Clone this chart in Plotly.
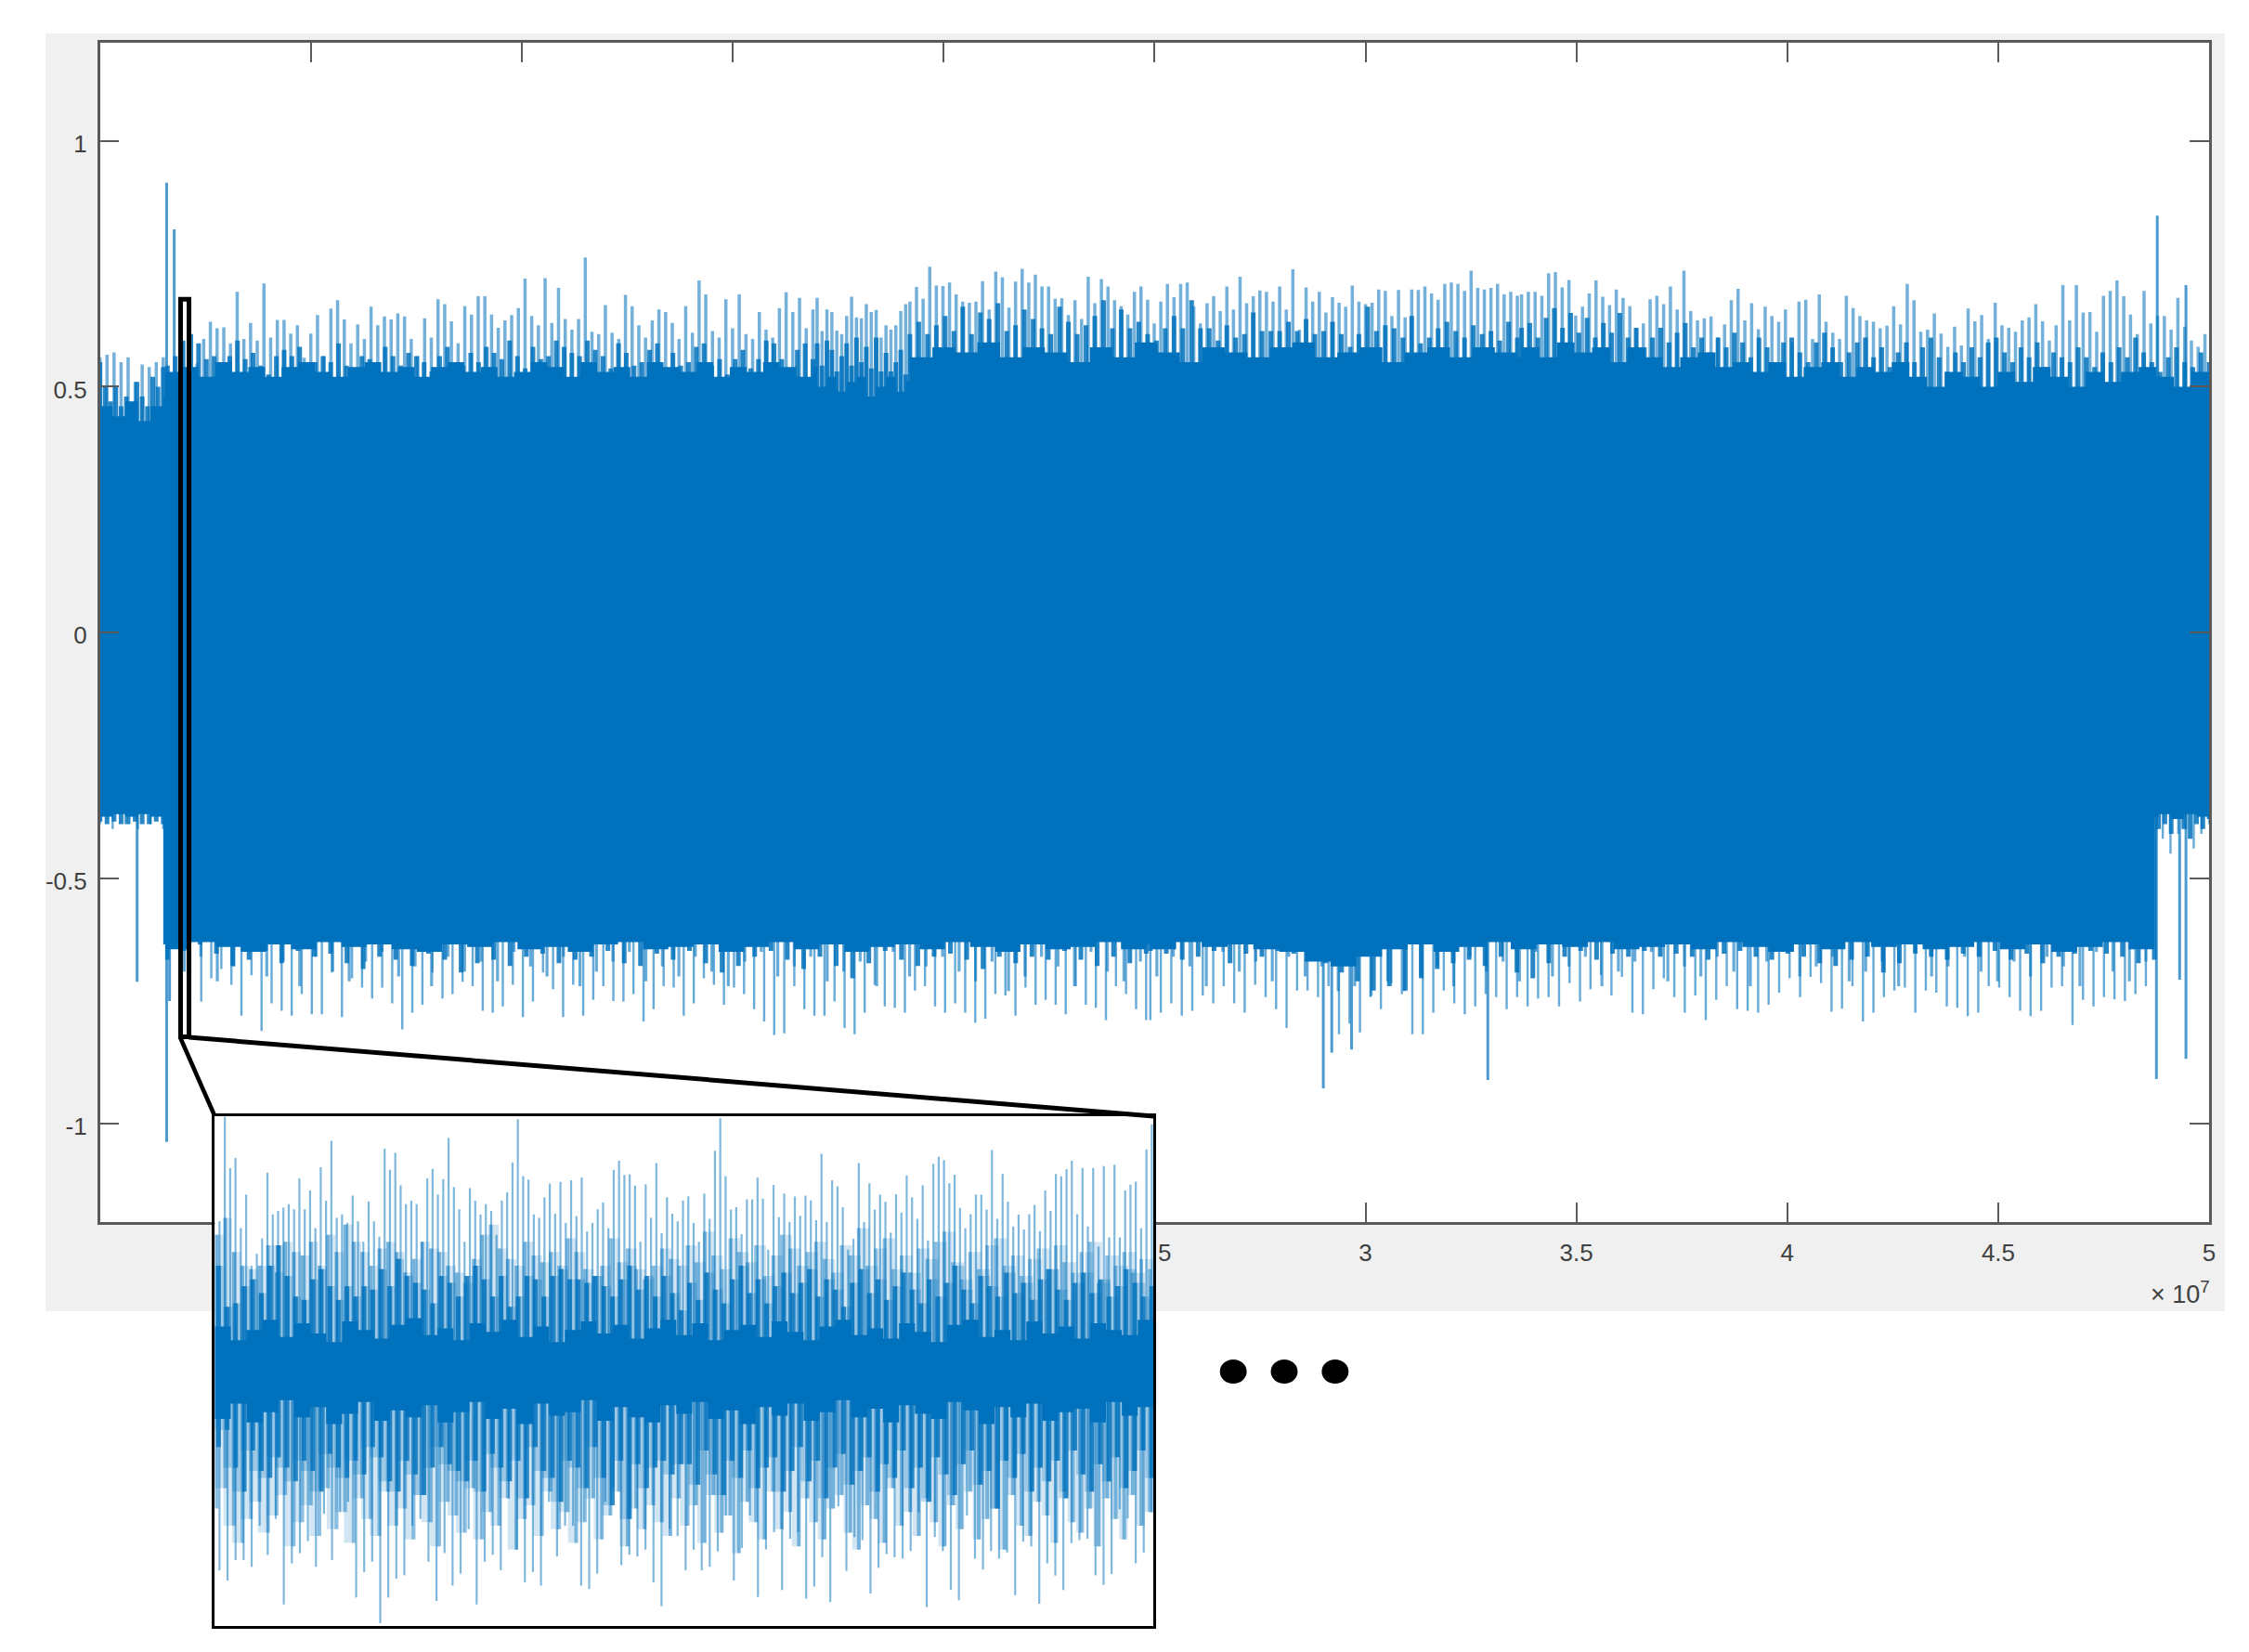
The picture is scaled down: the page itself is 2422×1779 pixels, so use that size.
import numpy as np
import plotly.graph_objects as go

W, H = 2422, 1779

# ---------- main signal: values ----------
TOP_PEAK_LEFT = [.56,.565,.57,.55,.56,.51,.545,.54,.55,.56]
TOP_PEAK_A = [.547,.597,.632,.619,.621,.588,.693,.597,.63,.594,.71,.60,.636,.636,.608,.625,.559,.608,.646,.562,.659,.676,.637,.588,.627,.597,.663,.625,.643,.637,.649,.643,.597,.562,.639,.60,.678,.668,.633,.588,.664,.647,.684,.684,.647,.62,.635,.646,.66,.72,.644,.625,.721,.63,.701,.638,.616,.638,.763,.612,.607,.666,.61,.597,.687,.664,.625,.60,.635,.657,.652,.63,.597,.664,.61,.716,.688,.613,.60,.678,.619,.688,.607,.597,.652,.616,.60,.66,.692,.652,.681,.619,.657]
TOP_PEAK_B1 = [.681,.613,.657,.652,.614,.607,.644,.683,.641,.639,.668,.652,.656,.60,.625,.616,.625,.654,.668]
TOP_PEAK_B2 = [.673,.703,.679,.744,.706,.705,.712,.688,.673,.671,.673,.715,.657,.734,.723,.661,.714,.74,.712,.728,.704,.704,.679,.68,.646,.676,.638,.724,.67,.719,.704,.676,.664,.647,.693,.704,.677,.629,.673,.709,.682,.709,.712,.664,.629,.67,.684,.654,.704,.657,.724,.67,.684,.696,.693,.673,.704,.657,.739,.616,.702,.673,.693,.651,.682,.671,.663,.706,.673,.668,.671,.698,.695,.644,.697,.641,.698,.697,.704,.69,.677,.709,.712,.709,.695,.736,.701,.698,.701,.709,.688,.693,.685]
TOP_PEAK_C = [.688,.693,.693,.685,.731,.733,.702,.717,.645,.663,.69,.716,.683,.666,.698,.681,.664,.619,.629,.678,.685,.668,.704,.657,.736,.654,.635,.639,.643,.60,.627,.676,.699,.635,.67,.617,.663,.644,.632,.657,.59,.673,.677,.597,.688,.632,.61,.597,.685,.66,.644,.635,.632,.619,.624,.664,.627,.709,.676,.612,.616,.649,.608,.581,.622,.584,.659,.633,.646,.597,.671,.625,.62,.612,.635,.641,.668,.633,.594,.625,.707,.635,.707,.651,.652,.612,.685,.695,.716,.684,.647,.607,.695,.629,.644,.644,.616,.681,.622,.594,.581,.607]
TOP_BODY_LEFT = [.55,.50,.47,.50,.46,.48,.45,.51,.48,.46,.52,.50,.54]
TOP_BODY_A = [.543,.562,.594,.607,.588,.556,.562,.537,.562,.594,.556,.569,.543,.525,.562,.575,.562,.581,.55,.55,.562,.55,.588,.543,.525,.562,.556,.537,.581,.562,.543,.569,.562,.55,.531,.562,.581,.525,.543,.569,.55,.581,.569,.556,.594,.562,.537,.581,.556,.562,.594,.581,.569,.562,.594,.575,.562,.537,.588,.569,.543,.55,.575,.588,.537,.569,.543,.55,.581,.588,.543,.556,.525,.556,.575,.537,.556,.594,.588,.556,.537,.575,.588,.556]
TOP_BODY_B1 = [.588,.543,.594,.575,.531,.562,.588,.543,.60,.55,.581,.537,.60,.531,.569,.531,.55,.575,.525]
TOP_BODY_B2 = [.607,.632,.607,.625,.644,.613,.663,.607,.651,.638,.67,.613,.625,.657,.638,.619,.607,.663,.632,.607,.625,.644,.676,.619,.657,.619,.632,.607,.594,.619,.644,.619,.676,.619,.619,.594,.625,.60,.607,.651,.613,.613,.613,.632,.613,.638,.607,.613,.632,.607,.581,.607,.663,.613,.625,.619,.60,.644,.588,.60,.619,.632,.613,.60,.625,.607,.613,.594,.632,.60]
TOP_BODY_C = [.62,.63,.60,.64,.66,.62,.65,.61,.64,.60,.63,.61,.65,.60,.62,.58,.60,.62,.59,.61,.63,.58,.60,.57,.60,.58,.61,.59,.56,.60,.58,.55,.59,.60,.57,.55,.59,.61,.58,.55,.57,.59,.60,.56,.58,.54,.57,.59,.55,.58,.60,.56,.53,.57,.55,.58,.56,.59,.60,.57,.55,.58,.56,.59,.54,.57,.56,.55,.58,.56,.54,.57,.55,.58,.56,.60,.57,.55,.53,.56,.58,.55,.54,.57,.55]
TOP_SOLID_LEFT = [.46,.44,.47,.43,.46,.48]
TOP_SOLID_A = [.53,.54,.52,.55,.53,.54,.52,.54,.55,.53,.52,.54,.55,.53,.54,.52,.54,.55,.53,.54,.52,.53,.55,.54,.52,.55,.53,.54,.52,.55,.54,.53,.55,.52,.54,.53,.55,.54,.52,.54]
TOP_SOLID_B1 = [.50,.52,.49,.51,.52,.48,.50,.52,.49,.51]
TOP_SOLID_B2 = [.56,.58,.57,.59,.56,.58,.57,.55,.58,.56,.59,.57,.55,.58,.57,.56,.58,.59,.56,.57,.58,.55,.57,.58,.56,.58,.57,.56]
TOP_SOLID_C = [.58,.56,.59,.57,.58,.55,.58,.56,.54,.56,.57,.54,.55,.53,.55,.52,.54,.55,.52,.54,.53,.55,.52,.50,.53,.52,.50,.53,.51,.54,.52,.50,.53,.51,.53,.54,.52,.50,.53,.51]
BOT_PEAK_LEFT = [-.39,-.40,-.39,-.40,-.39,-.40]
BOT_PEAK_D = [-.751,-.704,-.685,-.717,-.78,-.698,-.811,-.755,-.77,-.78,-.736,-.777,-.777,-.692,-.783,-.704,-.723,-.745,-.723,-.755,-.808,-.774,-.758,-.692,-.745,-.736,-.711,-.72,-.77,-.774,-.761,-.717,-.783,-.751,-.692,-.726,-.783,-.717,-.78,-.748,-.72,-.75,-.751,-.736,-.792,-.767,-.72,-.723,-.78,-.755,-.704,-.717,-.758,-.723,-.736,-.767,-.792,-.819,-.816,-.72,-.767,-.78,-.78,-.751,-.805,-.818,-.774,-.717,-.761,-.764,-.774,-.729,-.72,-.761,-.774,-.755,-.774,-.794,-.786,-.736,-.739,-.78,-.723,-.758,-.748,-.758,-.777,-.72,-.758,-.764,-.789,-.72,-.736,-.767,-.789]
BOT_PEAK_E = [-.789,-.774,-.755,-.78,-.77,-.739,-.755,-.72,-.755,-.774,-.717,-.742,-.767,-.805,-.729,-.729,-.742,-.72,-.818,-.796,-.814,-.742,-.767,-.714,-.736,-.818,-.818,-.774,-.729,-.755,-.777,-.761,-.736,-.742,-.767,-.742,-.761,-.745,-.742,-.761,-.714,-.751,-.726,-.698,-.739,-.701,-.774,-.777,-.726,-.704,-.742,-.774,-.739,-.789,-.748,-.72,-.767,-.77,-.774,-.758,-.733,-.704,-.742,-.701,-.714,-.772,-.766,-.72,-.792,-.774,-.742,-.729,-.723,-.774,-.729,-.733,-.761,-.764,-.781,-.774,-.72,-.723,-.742,-.77,-.781,-.77,-.723,-.72,-.799,-.748,-.761,-.742,-.747,-.75,-.736,-.72]
BOT_PEAK_RIGHT = [-.42,-.45,-.41,-.40,-.44,-.41,-.39]
BOT_BODY_LEFT = [-.385,-.39,-.385,-.39,-.39,-.385,-.39,-.39,-.385,-.39]
BOT_BODY_D = [-.666,-.648,-.635,-.654,-.679,-.666,-.648,-.673,-.648,-.66,-.654,-.673,-.685,-.66,-.666,-.679,-.654,-.666,-.692,-.673,-.666,-.679,-.66,-.654,-.673,-.666,-.66,-.648,-.673,-.679,-.654,-.666,-.648,-.673,-.692,-.679,-.66,-.648,-.666,-.685,-.66,-.679,-.704,-.673,-.648,-.666,-.679,-.66,-.654,-.666,-.685,-.66,-.673,-.66,-.666,-.648,-.666,-.679,-.66,-.673,-.654]
BOT_BODY_E = [-.648,-.654,-.666,-.66,-.648,-.673,-.654,-.66,-.648,-.654,-.66,-.673,-.692,-.71,-.729,-.72,-.729,-.704,-.685,-.673,-.666,-.679,-.66,-.692,-.704,-.673,-.66,-.648,-.666,-.654,-.66,-.648,-.66,-.654,-.66,-.666,-.654,-.648,-.66,-.666,-.654,-.66,-.673,-.679,-.666,-.66,-.692,-.673,-.654,-.66,-.666,-.654,-.66,-.648,-.666,-.654,-.673,-.66,-.654,-.648,-.654,-.66,-.673,-.666]
BOT_BODY_RIGHT = [-.40,-.39,-.41,-.38,-.40,-.42,-.39,-.40,-.38]
# finer light strokes just below the solid part of the lower edge
BOT_FINE = [-.69,-.66,-.71,-.68,-.65,-.70,-.67,-.72,-.66,-.69,-.71,-.67,-.65,-.70,-.68,-.72,-.66,-.69,-.67,-.71,-.65,-.68,-.70,-.66,-.72,-.69,-.67,-.65,-.71,-.68,-.70,-.66,-.69,-.72,-.67,-.65,-.70,-.68,-.66,-.71,-.69,-.67,-.72,-.65,-.70,-.68,-.66,-.69,-.71,-.67,-.73,-.70,-.66,-.68,-.72,-.65,-.69,-.71,-.67,-.70,
-.66,-.68,-.72,-.65,-.69,-.67,-.71,-.66,-.70,-.68,-.73,-.72,-.74,-.71,-.73,-.70,-.68,-.72,-.66,-.69,-.67,-.71,-.65,-.70,-.68,-.66,-.72,-.69,-.67,-.65,-.71,-.68,-.70,-.66,-.69,-.72,-.67,-.65,-.70,-.68,-.66,-.71,-.69,-.67,-.72,-.65,-.70,-.68,-.66,-.69,-.71,-.67,-.70,-.66,-.68,-.72,-.65,-.69,-.71,-.67]
BOT_SOLID_LEFT = [-.37,-.375,-.37,-.375,-.37,-.375]
BOT_SOLID_D = [-.635,-.645,-.63,-.64,-.65,-.635,-.645,-.63,-.64,-.635,-.645,-.65,-.635,-.64,-.63,-.645,-.64,-.65,-.635,-.63,-.645,-.64,-.635,-.65,-.64,-.63,-.645,-.635,-.65,-.64,-.635,-.645,-.63,-.64,-.65,-.635,-.645,-.64,-.63,-.645]
BOT_SOLID_E = [-.635,-.645,-.63,-.64,-.635,-.645,-.65,-.67,-.68,-.66,-.645,-.635,-.65,-.64,-.63,-.645,-.635,-.64,-.63,-.645,-.64,-.635,-.645,-.63,-.64,-.65,-.635,-.645,-.63,-.64,-.635,-.645,-.64,-.63,-.645,-.635,-.65,-.64,-.63,-.645]
BOT_SOLID_RIGHT = [-.375,-.37,-.38,-.37,-.375]
# isolated tall spikes: position in units of 1e7, value
BIG_X = [.158,.176,4.877,4.945,.088,.158,.165,2.90,2.92,2.967,3.29,4.875,4.93,4.945]
BIG_Y = [.915,.82,.848,.707,-.711,-1.037,-.75,-.928,-.855,-.849,-.911,-.909,-.707,-.868]

# ---------- magnified inset: amplitudes in inset units (+-743) ----------
IN_PEAK_TOP = [438,743,593,623,418,516,308,343,388,580,458,468,478,488,473,563,473,528,418,596,498,673,448,458,433,513,438,378,496,438,393,650,588,638,543,488,498,488,378,563,591,516,561,681,538,473,378,535,498,458,488,468,398,498,523,610,736,570,560,458,448,508,548,460,553,433,558,453,566,408,433,473,493,418,588,615,573,575,542,378,546,448,608,403,508,460,438,498,511,433,378,
519,445,644,739,570,472,479,400,502,502,565,504,355,544,450,519,436,510,454,513,499,441,635,436,558,540,479,355,387,608,436,549,472,516,495,405,517,463,572,508,445,543,382,606,626,617,549,574,477,418,459,516,516,472,646,445,576,495,423,457,414,459,486,409,528,468,576,569,590,615,459,594,423,594,364,599,391,603,391,528,545,554,418,648,721]
IN_PEAK_BOT = [-582,-612,-552,-552,-572,-452,-537,-432,-682,-562,-532,-497,-572,-417,-552,-412,-382,-662,-587,-557,-737,-662,-607,-597,-452,-432,-557,-672,-532,-627,-592,-462,-682,-557,-537,-582,-372,-522,-617,-587,-627,-382,-542,-452,-452,-627,-637,-592,-382,-342,-567,-537,-542,-522,-617,-687,-462,-482,-582,-522,-582,-572,-527,-422,-612,
-517,-422,-660,-521,-471,-640,-490,-471,-665,-630,-544,-675,-395,-584,-485,-494,-650,-575,-535,-544,-548,-526,-413,-690,-485,-526,-640,-670,-422,-548,-580,-526,-548,-530,-655,-499,-512,-680,-562,-598,-640,-503,-494,-490,-597,-625,-593,-404,-431,-562,-530,-413]
IN_MID_TOP = [398,448,348,308,298,308,368,288,378,348,338,378,308,398,348,428,378,348,308,358,378,348,288,328,378,358,348,308,288,258,328,398,428,358,328,308,378,338,318,348,308,388,348,298,278,308,388,318,358,298,268,308,358,328,308,
368,318,408,338,298,388,348,318,368,278,338,398,358,308,348,378,328,288,368,338,418,308,358,388,298,338,288,358,328,378,408,318,268,348,298,368,388,308,338,278,328,358,298,368,318,288,348,378,258,338,308,348,288,328,298]
IN_MID_BOT = [-402,-342,-452,-502,-432,-382,-472,-422,-362,-512,-442,-392,-482,-342,-462,-412,-502,-372,-432,-482,-352,-452,-402,-492,-362,-442,-512,-382,-422,-472,-342,-492,-412,-452,-372,-522,-432,-392,-482,-352,-462,-412,-502,-442,-372,-492,-422,-352,-512,-402,-462,-392,-442,-482,-372,
-452,-392,-502,-362,-472,-422,-532,-382,-442,-492,-352,-462,-412,-512,-372,-442,-492,-402,-362,-472,-522,-392,-432,-502,-342,-452,-412,-482,-372,-442,-512,-392,-462,-352,-492,-432,-402,-522,-362,-452,-482,-382,-422,-502,-352,-442,-472,-402,-512,-372,-432,-492,-362,-452,-412]
IN_BODY_TOP = [308,188,198,248,268,228,308,368,278,218,208,268,298,248,208,248,218,248,238,298,248,328,278,258,238,198,278,258,218,278,308,268,218,278,188,218,278,268,218,278,298,268,268,258,278,248,218,268,308,238,278,218,278,228,178,
258,208,288,238,198,268,308,228,268,198,248,288,228,258,298,218,268,238,188,258,298,228,268,208,248,288,238,198,268,218,258,308,238,198,278,248,218,288,228,258,208,268,298,238,208,258,288,228,268,218,248,298,258,218,248]
IN_BODY_BOT = [-222,-172,-282,-352,-232,-292,-312,-252,-282,-322,-262,-292,-352,-242,-282,-312,-262,-302,-222,-252,-322,-352,-262,-302,-362,-282,-222,-272,-292,-322,-262,-352,-242,-282,-322,-262,-372,-222,-292,-312,-382,-262,-282,-342,-222,-312,-392,-262,-432,-272,-342,-282,-262,-302,-272,
-272,-332,-232,-302,-362,-262,-312,-232,-342,-282,-252,-352,-292,-222,-322,-262,-372,-282,-242,-332,-292,-252,-352,-272,-312,-232,-342,-282,-382,-252,-302,-362,-272,-232,-332,-292,-402,-262,-312,-242,-352,-282,-322,-262,-372,-232,-302,-352,-272,-322,-252,-342,-292,-232,-312]
IN_CORE_TOP = [130,90,120,150,100,140,110,85,145,120,95,135,155,105,125,90,140,115,150,100,130,85,120,145,110,135,95,125,150,105,140,90,120,135,100,145,115,90,130,150,105,125,95,140,115,85,135,150,100,120,90,145,110,130,95,140,120,105,150,90]
IN_CORE_BOT = [-110,-140,-95,-150,-120,-85,-135,-105,-155,-125,-90,-145,-115,-135,-100,-150,-120,-90,-140,-110,-155,-95,-130,-120,-85,-145,-105,-135,-150,-100,-125,-90,-140,-115,-155,-105,-130,-95,-145,-120,-85,-135,-110,-150,-100,-125,-140,-90,-115,-155,-105,-135,-95,-145,-120,-110,-150,-90,-130,-105]

X_TICKS = [.5,1,1.5,2,2.5,3,3.5,4,4.5,5]
X_LABELS = ["0.5","1","1.5","2","2.5","3","3.5","4","4.5","5"]
Y_TICKS = [-1,-.5,0,.5,1]
Y_LABELS = ["-1","-0.5","0","0.5","1"]

BLUE = "#0071BC"
AXIS = "#5a5a5a"
TEXT = "#404040"
FONT = "Liberation Sans"

def span(values, a, b):
    return np.linspace(a, b, len(values)).tolist()

def spikes(xs, ys):
    px, py = [], []
    for x, y in zip(xs, ys):
        px += [x, x, None]
        py += [0, y, None]
    return px, py

def band(x_top, y_top, x_bot, y_bot, alpha, axes, name):
    return go.Scatter(x=list(x_top) + list(x_bot)[::-1], y=list(y_top) + list(y_bot)[::-1],
                      mode="lines", line=dict(color=BLUE, width=0, shape="hv"),
                      fill="toself", fillcolor=f"rgba(0,113,188,{alpha})", hoverinfo="skip", showlegend=False,
                      xaxis=axes[0], yaxis=axes[1], name=name)

def stroke(xs, ys, width, alpha, axes, name):
    px, py = spikes(xs, ys)
    return go.Scatter(x=px, y=py, mode="lines", line=dict(color=f"rgba(0,113,188,{alpha})", width=width),
                      hoverinfo="skip", showlegend=False, xaxis=axes[0], yaxis=axes[1], name=name)

MAIN = ("x", "y")
INSET = ("x2", "y2")
STEP = 1.92

top_peak_x = span(TOP_PEAK_LEFT, 0, .15) + span(TOP_PEAK_A, .23, 1.69) + span(TOP_PEAK_B1, 1.70, STEP - .01) + span(TOP_PEAK_B2, STEP, 3.36) + span(TOP_PEAK_C, 3.37, 4.99)
top_peak_y = TOP_PEAK_LEFT + TOP_PEAK_A + TOP_PEAK_B1 + TOP_PEAK_B2 + TOP_PEAK_C
bot_peak_x = span(BOT_PEAK_LEFT, 0, .15) + span(BOT_PEAK_D, .24, 2.48) + span(BOT_PEAK_E, 2.49, 4.85) + span(BOT_PEAK_RIGHT, 4.89, 5)
bot_peak_y = BOT_PEAK_LEFT + BOT_PEAK_D + BOT_PEAK_E + BOT_PEAK_RIGHT
top_body_x = span(TOP_BODY_LEFT, 0, .15) + span(TOP_BODY_A, .16, 1.69) + span(TOP_BODY_B1, 1.70, STEP - .01) + span(TOP_BODY_B2, STEP, 3.36) + span(TOP_BODY_C, 3.37, 5)
top_body_y = TOP_BODY_LEFT + TOP_BODY_A + TOP_BODY_B1 + TOP_BODY_B2 + TOP_BODY_C
bot_body_x = span(BOT_BODY_LEFT, 0, .15) + span(BOT_BODY_D, .16, 2.48) + span(BOT_BODY_E, 2.49, 4.87) + span(BOT_BODY_RIGHT, 4.88, 5)
bot_body_y = BOT_BODY_LEFT + BOT_BODY_D + BOT_BODY_E + BOT_BODY_RIGHT
top_solid_x = span(TOP_SOLID_LEFT, 0, .15) + span(TOP_SOLID_A, .155, 1.69) + span(TOP_SOLID_B1, 1.70, STEP - .01) + span(TOP_SOLID_B2, STEP, 3.36) + span(TOP_SOLID_C, 3.37, 5)
top_solid_y = TOP_SOLID_LEFT + TOP_SOLID_A + TOP_SOLID_B1 + TOP_SOLID_B2 + TOP_SOLID_C
bot_solid_x = span(BOT_SOLID_LEFT, 0, .15) + span(BOT_SOLID_D, .155, 2.48) + span(BOT_SOLID_E, 2.49, 4.87) + span(BOT_SOLID_RIGHT, 4.88, 5)
bot_solid_y = BOT_SOLID_LEFT + BOT_SOLID_D + BOT_SOLID_E + BOT_SOLID_RIGHT

traces = [
    stroke(top_peak_x, top_peak_y, 3.5, .55, MAIN, "peaks up"),
    stroke(bot_peak_x, bot_peak_y, 2.4, .6, MAIN, "peaks down"),
    stroke(span(BOT_FINE, .2, 4.85), BOT_FINE, 3.2, .6, MAIN, "fine down"),
    stroke(BIG_X, BIG_Y, 3, .7, MAIN, "tall spikes"),
    stroke(top_body_x, top_body_y, 5, .85, MAIN, "upper body"),
    stroke(bot_body_x, bot_body_y, 5, .85, MAIN, "lower body"),
    band(top_solid_x, top_solid_y, bot_solid_x, bot_solid_y, 1, MAIN, "signal"),
    stroke(span(IN_PEAK_TOP, 5, 998), IN_PEAK_TOP, 2.2, .5, INSET, "inset peaks up"),
    stroke(span(IN_PEAK_BOT, 5, 998), IN_PEAK_BOT, 2.2, .5, INSET, "inset peaks down"),
    band(span(IN_MID_TOP, 0, 1000), IN_MID_TOP, span(IN_MID_BOT, 0, 1000), IN_MID_BOT, .18, INSET, "inset halo"),
    stroke(span(IN_MID_TOP, 2, 996), IN_MID_TOP, 4, .45, INSET, "inset mid up"),
    stroke(span(IN_MID_BOT, 2, 996), IN_MID_BOT, 4, .45, INSET, "inset mid down"),
    band(span(IN_BODY_TOP, 0, 1000), IN_BODY_TOP, span(IN_BODY_BOT, 0, 1000), IN_BODY_BOT, .25, INSET, "inset body"),
    stroke(span(IN_BODY_TOP, 4, 998), IN_BODY_TOP, 5, .8, INSET, "inset body up"),
    stroke(span(IN_BODY_BOT, 4, 998), IN_BODY_BOT, 5, .8, INSET, "inset body down"),
    band(span(IN_CORE_TOP, 0, 1000), IN_CORE_TOP, span(IN_CORE_BOT, 0, 1000), IN_CORE_BOT, 1, INSET, "inset core"),
]

fig = go.Figure(traces)

def fx(px):
    return px / W

def fy(py):
    return 1 - py / H

def paper_line(x0, y0, x1, y1, w):
    return dict(type="line", xref="paper", yref="paper", layer="above",
                x0=fx(x0), y0=fy(y0), x1=fx(x1), y1=fy(y1), line=dict(color="black", width=w))

shapes = [
    dict(type="rect", xref="paper", yref="paper", layer="below", x0=fx(49), x1=fx(2403), y0=fy(1412), y1=fy(36),
         fillcolor="#f0f0f0", line=dict(width=0)),
    dict(type="rect", xref="paper", yref="paper", layer="below", x0=fx(108), x1=fx(2386), y0=fy(1316), y1=fy(46),
         fillcolor="white", line=dict(width=0)),
    # zoom window on the signal, in data coordinates
    dict(type="rect", xref="x", yref="y", layer="above", x0=.191, x1=.211, y0=-.823, y1=.678,
         line=dict(color="black", width=5)),
    paper_line(195, 1118, 232, 1202, 4.5),
    paper_line(204, 1117, 1246, 1202, 5),
]
for cx in (1332, 1387, 1442):
    shapes.append(dict(type="circle", xref="paper", yref="paper", layer="above",
                       x0=fx(cx - 14.5), x1=fx(cx + 14.5), y0=fy(1477 + 13), y1=fy(1477 - 13),
                       fillcolor="black", line=dict(width=0)))

axis_common = dict(showgrid=False, zeroline=False, showline=True, mirror="ticks", linecolor=AXIS, linewidth=2.5,
                   ticks="inside", ticklen=21, tickwidth=2, tickcolor=AXIS,
                   tickfont=dict(family=FONT, size=26, color=TEXT))

fig.update_layout(
    width=W, height=H, autosize=False,
    margin=dict(l=0, r=0, t=0, b=0),
    paper_bgcolor="white", plot_bgcolor="white",
    showlegend=False, hovermode=False,
    shapes=shapes,
    xaxis=dict(domain=[fx(108), fx(2386)], range=[0, 5], tickmode="array", tickvals=X_TICKS, ticktext=X_LABELS,
               ticklabelstandoff=8, anchor="y", **axis_common),
    yaxis=dict(domain=[fy(1316), fy(46)], range=[-1.2, 1.2], tickmode="array", tickvals=Y_TICKS, ticktext=Y_LABELS,
               ticklabelstandoff=6, ticklabelshift=3, anchor="x", **axis_common),
    xaxis2=dict(domain=[fx(232), fx(1246)], range=[0, 1000], showgrid=False, zeroline=False, showticklabels=False,
                ticks="", showline=True, mirror=True, linecolor="black", linewidth=3, anchor="y2"),
    yaxis2=dict(domain=[fy(1751), fy(1202)], range=[-745, 745], showgrid=False, zeroline=False, showticklabels=False,
                ticks="", showline=True, mirror=True, linecolor="black", linewidth=3, anchor="x2"),
    annotations=[dict(xref="paper", yref="paper", x=fx(2389), y=fy(1392), xanchor="right", yanchor="middle",
                      showarrow=False, text="\u00d7 10<sup>7</sup>", font=dict(family=FONT, size=27, color=TEXT))],
)

fig.write_html("out.html", config={"displayModeBar": False},
               post_script="document.documentElement.style.overflow='hidden';document.body.style.margin='0';")
